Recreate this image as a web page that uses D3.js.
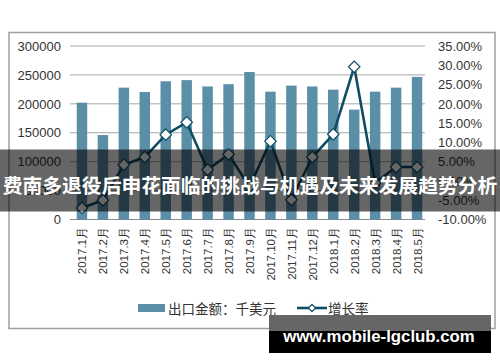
<!DOCTYPE html>
<html><head><meta charset="utf-8">
<script src="https://cdn.jsdelivr.net/npm/d3@7"></script>
<style>body{margin:0;background:#fff}svg{display:block}</style>
</head><body>
<svg id="c" width="500" height="362"></svg>
<script>
const categories = ["2017.1月","2017.2月","2017.3月","2017.4月","2017.5月","2017.6月","2017.7月","2017.8月","2017.9月","2017.10月","2017.11月","2017.12月","2018.1月","2018.2月","2018.3月","2018.4月","2018.5月"];
const exportValues = [202000,146000,228000,220500,239000,241000,230000,234000,255000,221000,231500,230000,224500,190000,221000,228000,246500];
const growthRates = [-7.0,-5.0,4.2,6.2,12.0,15.2,2.9,6.9,-1.5,10.3,-4.9,6.2,12.1,29.6,-0.5,3.6,3.6];
const leftTicks = [0,50000,100000,150000,200000,250000,300000];
const rightTicks = [-10,-5,0,5,10,15,20,25,30,35];
const seriesNames = ["出口金额：千美元","增长率"];
const title = "费南多退役后申花面临的挑战与机遇及未来发展趋势分析";
const watermark = "www.mobile-lgclub.com";

const svg = d3.select("#c");
const barColor = "#5b8fa8", lineColor = "#0f4d64", gridColor = "#a6a6a6";
const font = "'Liberation Sans', Arial, sans-serif";

// outer frame
svg.append("rect").attr("x",9).attr("y",32.5).attr("width",486).attr("height",296)
  .attr("fill","#fff").attr("stroke","#a0a0a0").attr("stroke-width",1.5);

const x = d3.scaleBand().domain(categories).range([71.5,427.5]).paddingInner(0.5).paddingOuter(0.25);
const yL = d3.scaleLinear().domain([0,300000]).range([219.5,46]);
const yR = d3.scaleLinear().domain([-10,35]).range([219.5,46]);

// gridlines
svg.append("g").selectAll("line").data(leftTicks).join("line")
  .attr("x1",70).attr("x2",425).attr("y1",d=>yL(d)).attr("y2",d=>yL(d))
  .attr("stroke",d=>d===0?"#888":gridColor).attr("stroke-width",1);

// left axis
const axL = svg.append("g").attr("transform","translate(61,0)")
  .call(d3.axisLeft(yL).tickValues(leftTicks).tickFormat(d3.format("d")).tickSize(0).tickPadding(0));
axL.select(".domain").remove();
axL.selectAll("text").attr("font-family",font).attr("font-size",13).attr("fill","#333");

// right axis
const axR = svg.append("g").attr("transform","translate(438,0)")
  .call(d3.axisRight(yR).tickValues(rightTicks).tickFormat(d=>d.toFixed(2)+"%").tickSize(0).tickPadding(0));
axR.select(".domain").remove();
axR.selectAll("text").attr("font-family",font).attr("font-size",13).attr("fill","#333");

// bars
svg.append("g").selectAll("rect").data(exportValues).join("rect")
  .attr("x",(d,i)=>x(categories[i])).attr("width",x.bandwidth())
  .attr("y",d=>yL(d)).attr("height",d=>yL(0)-yL(d)).attr("fill",barColor);

// line
const cx = i => x(categories[i]) + x.bandwidth()/2;
svg.append("path").datum(growthRates)
  .attr("d", d3.line().x((d,i)=>cx(i)).y(d=>yR(d)))
  .attr("fill","none").attr("stroke",lineColor).attr("stroke-width",2.6);
const diamond = d3.symbol().type(d3.symbolSquare).size(66);
svg.append("g").selectAll("path").data(growthRates).join("path")
  .attr("d",diamond).attr("transform",(d,i)=>`translate(${cx(i)},${yR(d)}) rotate(45)`)
  .attr("fill","#fff").attr("stroke",lineColor).attr("stroke-width",1.2);

// x labels
svg.append("g").selectAll("text").data(categories).join("text")
  .attr("transform",(d,i)=>`translate(${cx(i)+0.5},227) rotate(-90)`)
  .attr("text-anchor","end").attr("dominant-baseline","central")
  .attr("font-family",font).attr("font-size",11.5).attr("fill","#333").text(d=>d);

// legend
const lg = svg.append("g");
lg.append("rect").attr("x",138).attr("y",304).attr("width",27).attr("height",8).attr("fill",barColor);
lg.append("text").attr("x",168).attr("y",308).attr("dominant-baseline","central")
  .attr("font-family","'Noto Sans CJK SC',sans-serif").attr("font-size",13.5).attr("fill","#333").text(seriesNames[0]);
lg.append("line").attr("x1",297).attr("x2",327).attr("y1",308).attr("y2",308).attr("stroke",lineColor).attr("stroke-width",2.6);
lg.append("path").attr("d",d3.symbol().type(d3.symbolSquare).size(26)).attr("transform","translate(312,308) rotate(45)")
  .attr("fill","#fff").attr("stroke",lineColor).attr("stroke-width",1.2);
lg.append("text").attr("x",328).attr("y",308).attr("dominant-baseline","central")
  .attr("font-family","'Noto Sans CJK SC',sans-serif").attr("font-size",13.5).attr("fill","#333").text(seriesNames[1]);

// banner overlay
svg.append("rect").attr("x",0).attr("y",149.5).attr("width",500).attr("height",62).attr("fill","rgba(0,0,0,0.6)");
svg.append("text").attr("x",250).attr("y",184).attr("text-anchor","middle").attr("dominant-baseline","central")
  .attr("font-family","'Noto Sans CJK SC',sans-serif").attr("font-weight","bold").attr("font-size",19.8)
  .attr("fill","#fff").text(title);

// watermark
svg.append("rect").attr("x",269).attr("y",315).attr("width",222).attr("height",38).attr("fill","#000");
svg.append("rect").attr("x",269).attr("y",315).attr("width",222).attr("height",16).attr("fill","#666");
svg.append("text").attr("x",379).attr("y",341.5).attr("text-anchor","middle")
  .attr("font-family",font).attr("font-weight","bold").attr("font-size",16.8).attr("fill","#fff").text(watermark);
</script>
</body></html>
